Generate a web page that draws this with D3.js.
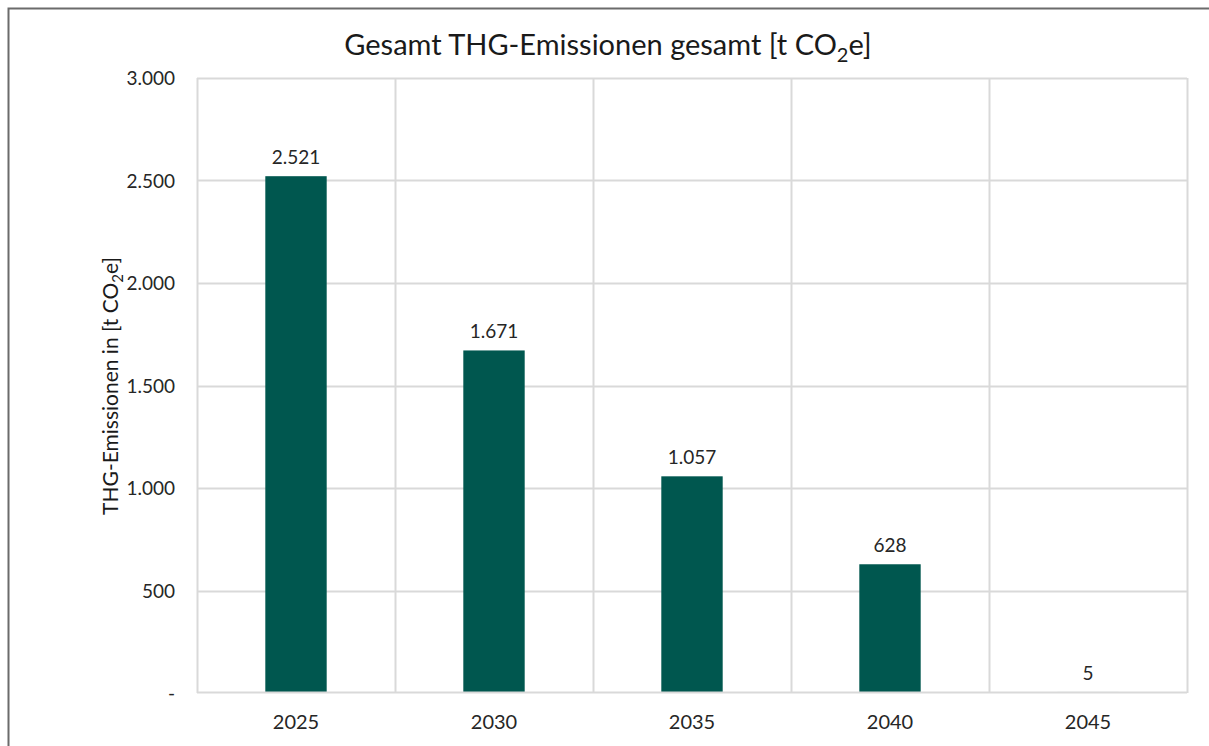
<!DOCTYPE html>
<html>
<head>
<meta charset="utf-8">
<script src="https://cdn.jsdelivr.net/npm/d3@7"></script>
<style>
  html, body { margin: 0; padding: 0; background: #fff; }
  svg { display: block; font-family: Lato, "Open Sans", sans-serif; }
</style>
</head>
<body>
<svg id="chart" width="1209" height="746"></svg>
<script>
// Total GHG emissions per milestone year
const years = ["2025", "2030", "2035", "2040", "2045"];
const emissions = [2521, 1671, 1057, 628, 5];
const yTicks = [0, 500, 1000, 1500, 2000, 2500, 3000];

const W = 1209, H = 746;
const margin = { left: 197, right: 22, top: 78, bottom: 53 };
const svg = d3.select("#chart");

// Chart frame
svg.append("path")
  .attr("d", `M8.5,${H} V8.5 H${W}`)
  .attr("fill", "none")
  .attr("stroke", "#6b6b6b")
  .attr("stroke-width", 2);

const x = d3.scaleBand()
  .domain(years)
  .range([margin.left, W - margin.right])
  .paddingInner(0).paddingOuter(0);

const y = d3.scaleLinear()
  .domain([0, 3000])
  .range([H - margin.bottom, margin.top]);

const fmtLabel = v => d3.format(",")(v).replace(/,/g, ".");
const fmtTick = v => v === 0 ? "-" : fmtLabel(v);
const rows = years.map((yr, i) => ({ yr, v: emissions[i] }));

// Horizontal gridlines
const grid = svg.append("g");
grid.selectAll("line.h")
  .data(yTicks.filter(d => d !== 0))
  .join("line")
  .attr("class", "h")
  .attr("x1", margin.left)
  .attr("x2", W - margin.right)
  .attr("y1", d => Math.round(y(d)) + 0.5)
  .attr("y2", d => Math.round(y(d)) + 0.5)
  .attr("stroke", "#d9d9d9")
  .attr("stroke-width", 2);

// Vertical category separators
const seps = years.map(d => x(d)).concat([x(years[years.length - 1]) + x.bandwidth()]);
grid.selectAll("line.v")
  .data(seps)
  .join("line")
  .attr("class", "v")
  .attr("x1", d => Math.round(d) + 0.5)
  .attr("x2", d => Math.round(d) + 0.5)
  .attr("y1", y(3000))
  .attr("y2", y(0))
  .attr("stroke", "#d9d9d9")
  .attr("stroke-width", 2);

// Bars
const barW = x.bandwidth() * 0.31;
svg.append("g")
  .selectAll("rect")
  .data(rows)
  .join("rect")
  .attr("x", d => x(d.yr) + x.bandwidth() / 2 - barW / 2)
  .attr("y", d => y(d.v))
  .attr("width", barW)
  .attr("height", d => y(0) - y(d.v))
  .attr("fill", "#00574f");

// Baseline
svg.append("line")
  .attr("x1", margin.left)
  .attr("x2", W - margin.right)
  .attr("y1", Math.round(y(0)) - 0.5)
  .attr("y2", Math.round(y(0)) - 0.5)
  .attr("stroke", "#d9d9d9")
  .attr("stroke-width", 2.2);

// Y tick labels
svg.append("g")
  .selectAll("text")
  .data(yTicks)
  .join("text")
  .attr("x", 175)
  .attr("y", d => y(d) + 7)
  .attr("text-anchor", "end")
  .attr("font-size", 19)
  .attr("fill", "#262626")
  .text(fmtTick);

// Value labels
svg.append("g")
  .selectAll("text")
  .data(rows)
  .join("text")
  .attr("x", d => x(d.yr) + x.bandwidth() / 2)
  .attr("y", d => y(d.v) - 12)
  .attr("text-anchor", "middle")
  .attr("font-size", 19)
  .attr("fill", "#262626")
  .text(d => fmtLabel(d.v));

// X axis labels
svg.append("g")
  .selectAll("text")
  .data(years)
  .join("text")
  .attr("x", d => x(d) + x.bandwidth() / 2)
  .attr("y", 729)
  .attr("text-anchor", "middle")
  .attr("font-size", 20)
  .attr("fill", "#262626")
  .text(d => d);

// Title
const title = svg.append("text")
  .attr("x", 608)
  .attr("y", 55)
  .attr("text-anchor", "middle")
  .attr("font-size", 29)
  .attr("fill", "#1a1a1a");
title.append("tspan").text("Gesamt THG-Emissionen gesamt [t CO");
title.append("tspan").attr("font-size", 20).attr("dy", 7).text("2");
title.append("tspan").attr("dy", -7).text("e]");

// Y axis title
const yt = svg.append("text")
  .attr("transform", `translate(118,386) rotate(-90)`)
  .attr("text-anchor", "middle")
  .attr("font-size", 21)
  .attr("fill", "#1a1a1a");
yt.append("tspan").text("THG-Emissionen in [t CO");
yt.append("tspan").attr("font-size", 15).attr("dy", 5).text("2");
yt.append("tspan").attr("dy", -5).text("e]");
</script>
</body>
</html>
